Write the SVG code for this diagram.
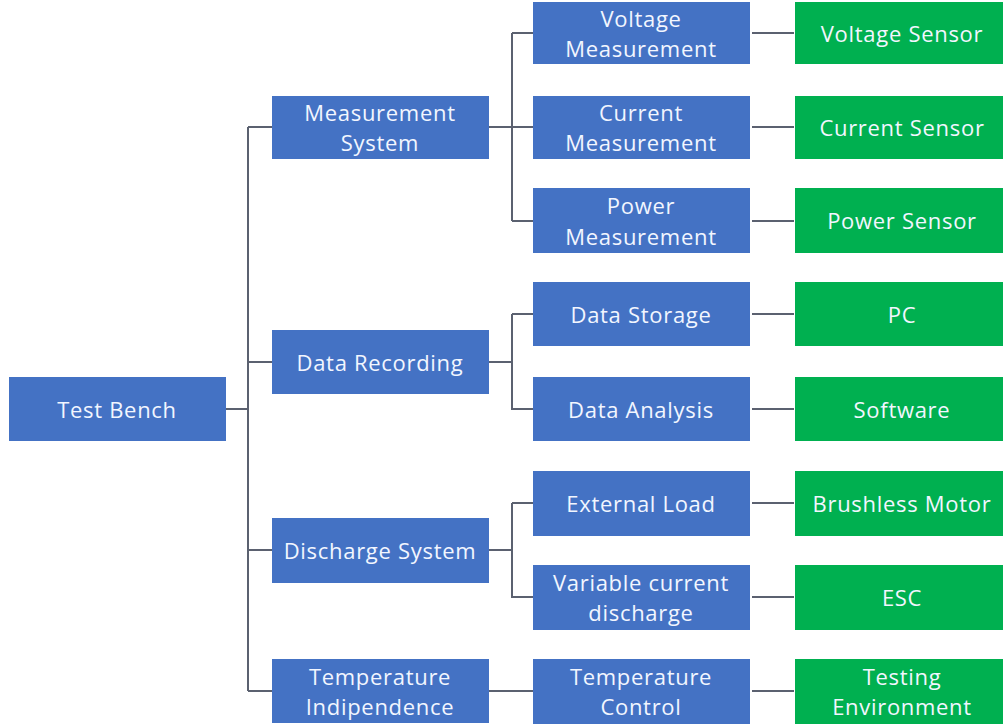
<svg xmlns="http://www.w3.org/2000/svg" width="1003" height="726" viewBox="0 0 1003 726">
<style>
.b{fill:#4472C4}
.g{fill:#00B050}
text{font-family:"Open Sans","Noto Sans",sans-serif;font-size:22px;letter-spacing:0.7px;fill:#f2f6ff;text-anchor:middle;dominant-baseline:central}
.c{stroke:#5b6170;stroke-width:2;fill:none}
</style>
<rect width="1003" height="726" fill="#ffffff"/>
<g id="connectors" class="c">
<path d="M226 409H248M248 127V691M248 127H272M248 362H272M248 550H272M248 691H272"/>
<path d="M489 127H533M512 33V221M512 33H533M512 221H533"/>
<path d="M489 362H512M512 314V409H533M512 314H533"/>
<path d="M489 550H512M512 503V597H533M512 503H533"/>
<path d="M489 691H533"/>
<path d="M752 33H794M752 127H794M752 221H794M752 314H794M752 409H794M752 503H794M752 597H794M752 691H794"/>
</g>
<g id="test-bench"><rect class="b" x="9" y="377" width="217" height="64"/><text x="117" y="409">Test Bench</text></g>
<g id="measurement-system"><rect class="b" x="272" y="96" width="217" height="63"/><text x="380" y="112">Measurement</text><text x="380" y="142">System</text></g>
<g id="data-recording"><rect class="b" x="272" y="330" width="217" height="64"/><text x="380" y="362">Data Recording</text></g>
<g id="discharge-system"><rect class="b" x="272" y="518" width="217" height="65"/><text x="380" y="550">Discharge System</text></g>
<g id="temperature-indipendence"><rect class="b" x="272" y="659" width="217" height="64"/><text x="380" y="676">Temperature</text><text x="380" y="706">Indipendence</text></g>
<g id="voltage-measurement"><rect class="b" x="533" y="2" width="217" height="62"/><text x="641" y="18">Voltage</text><text x="641" y="48">Measurement</text></g>
<g id="current-measurement"><rect class="b" x="533" y="96" width="217" height="63"/><text x="641" y="112">Current</text><text x="641" y="142">Measurement</text></g>
<g id="power-measurement"><rect class="b" x="533" y="188" width="217" height="65"/><text x="641" y="205">Power</text><text x="641" y="236">Measurement</text></g>
<g id="data-storage"><rect class="b" x="533" y="282" width="217" height="64"/><text x="641" y="314">Data Storage</text></g>
<g id="data-analysis"><rect class="b" x="533" y="377" width="217" height="64"/><text x="641" y="409">Data Analysis</text></g>
<g id="external-load"><rect class="b" x="533" y="471" width="217" height="65"/><text x="641" y="503">External Load</text></g>
<g id="variable-current-discharge"><rect class="b" x="533" y="565" width="217" height="65"/><text x="641" y="582">Variable current</text><text x="641" y="612">discharge</text></g>
<g id="temperature-control"><rect class="b" x="533" y="659" width="217" height="65"/><text x="641" y="676">Temperature</text><text x="641" y="706">Control</text></g>
<g id="voltage-sensor"><rect class="g" x="795" y="2" width="220" height="62"/><text x="902" y="33">Voltage Sensor</text></g>
<g id="current-sensor"><rect class="g" x="795" y="96" width="220" height="63"/><text x="902" y="127">Current Sensor</text></g>
<g id="power-sensor"><rect class="g" x="795" y="188" width="220" height="65"/><text x="902" y="220">Power Sensor</text></g>
<g id="pc"><rect class="g" x="795" y="282" width="220" height="64"/><text x="902" y="314">PC</text></g>
<g id="software"><rect class="g" x="795" y="377" width="220" height="64"/><text x="902" y="409">Software</text></g>
<g id="brushless-motor"><rect class="g" x="795" y="471" width="220" height="65"/><text x="902" y="503">Brushless Motor</text></g>
<g id="esc"><rect class="g" x="795" y="565" width="220" height="65"/><text x="902" y="597">ESC</text></g>
<g id="testing-environment"><rect class="g" x="795" y="659" width="220" height="65"/><text x="902" y="676">Testing</text><text x="902" y="706">Environment</text></g>
</svg>
